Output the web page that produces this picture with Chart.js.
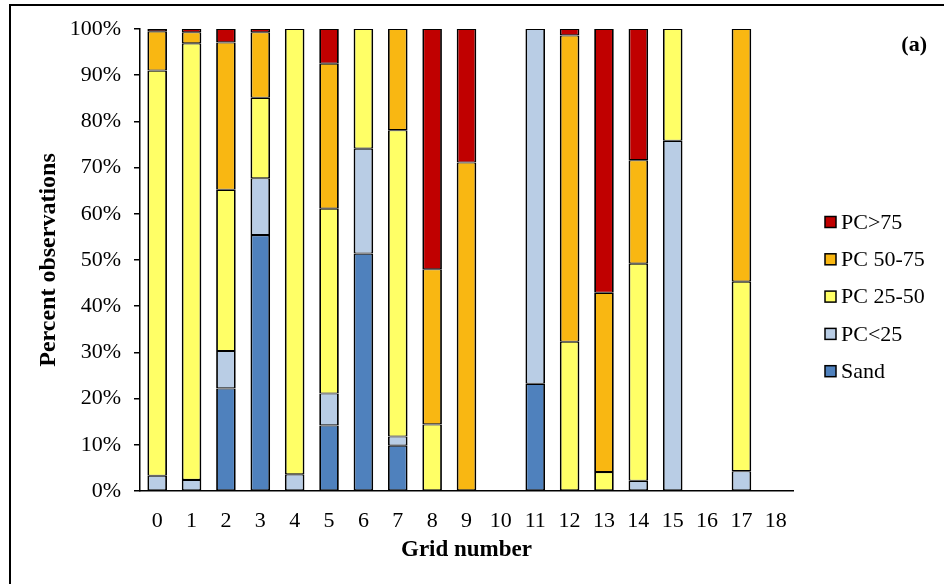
<!DOCTYPE html>
<html>
<head>
<meta charset="utf-8">
<script src="https://cdn.jsdelivr.net/npm/chart.js@4/dist/chart.umd.min.js"></script>
<style>
  html, body { margin: 0; padding: 0; background: #fff; }
  #wrap { width: 944px; height: 584px; position: relative; }
</style>
</head>
<body>
<div id="wrap"><canvas id="grafico" width="944" height="584"></canvas></div>
<script>
// Grid numbers on the x axis
const grids = ['0', '1', '2', '3', '4', '5', '6', '7', '8', '9', '10', '11', '12', '13', '14', '15', '16', '17', '18'];

// Percent of observations per class, one value per grid
const sand      = [0, 0, 22.2, 55.4, 0, 14.2, 51.4, 9.8, 0, 0, 0, 23.2, 0, 0, 0, 0, 0, 0, 0];
const pcUnder25 = [3.3, 2.4, 8.1, 12.3, 3.6, 6.9, 22.7, 2.0, 0, 0, 0, 76.8, 0, 0, 2.2, 75.8, 0, 4.3, 0];
const pc25to50  = [87.7, 94.5, 34.9, 17.4, 96.4, 40.0, 25.9, 66.3, 14.4, 0, 0, 0, 32.3, 4.1, 47.0, 24.2, 0, 41.0, 0];
const pc50to75  = [8.5, 2.4, 31.9, 14.2, 0, 31.4, 0, 21.9, 33.6, 71.1, 0, 0, 66.3, 38.8, 22.4, 0, 0, 54.7, 0];
const pcOver75  = [0.5, 0.7, 2.9, 0.7, 0, 7.5, 0, 0, 52.0, 28.9, 0, 0, 1.4, 57.1, 28.4, 0, 0, 0, 0];

const yTicks = [0, 10, 20, 30, 40, 50, 60, 70, 80, 90, 100];

const serif = "'Liberation Serif', 'Times New Roman', serif";

function serie(label, data, color) {
    return {
        label: label,
        data: data,
        backgroundColor: color,
        borderColor: '#000',
        // thinner top/bottom so two stacked segments share about one line
        borderWidth: { left: 1.8, right: 1.8, top: 1.1, bottom: 1.1 },
        borderSkipped: false,
        barPercentage: 0.57,
        categoryPercentage: 1
    };
}

// outer frame of the figure
const moldura = {
    id: 'moldura',
    beforeDraw(chart) {
        const ctx = chart.ctx;
        ctx.save();
        ctx.fillStyle = '#fff';
        ctx.fillRect(0, 0, chart.width, chart.height);
        ctx.strokeStyle = '#000';
        ctx.lineWidth = 2;
        ctx.strokeRect(10, 5, chart.width + 20, chart.height + 20);
        ctx.restore();
    }
};

// legend on the right, top class first, plus the panel tag
const legenda = {
    id: 'legenda',
    afterDraw(chart) {
        const ctx = chart.ctx;
        const sets = chart.data.datasets;
        ctx.save();
        ctx.font = '22px ' + serif;
        ctx.textBaseline = 'middle';
        ctx.textAlign = 'left';
        for (let i = sets.length - 1, k = 0; i >= 0; i--, k++) {
            const y = 222 + k * 37.3;
            ctx.fillStyle = sets[i].backgroundColor;
            ctx.fillRect(825, y - 5.5, 11, 11);
            ctx.strokeStyle = '#000';
            ctx.lineWidth = 1.5;
            ctx.strokeRect(825, y - 5.5, 11, 11);
            ctx.fillStyle = '#000';
            ctx.fillText(sets[i].label, 841, y + 1);
        }
        ctx.font = 'bold 22px ' + serif;
        ctx.textAlign = 'right';
        ctx.fillText('(a)', 927, 45);
        ctx.restore();
    }
};

new Chart(document.getElementById('grafico').getContext('2d'), {
    type: 'bar',
    data: {
        labels: grids,
        datasets: [
            serie('Sand', sand, '#4f81bd'),
            serie('PC<25', pcUnder25, '#b9cde5'),
            serie('PC 25-50', pc25to50, '#ffff66'),
            serie('PC 50-75', pc50to75, '#f9b712'),
            serie('PC>75', pcOver75, '#c00000')
        ]
    },
    options: {
        responsive: false,
        animation: false,
        layout: { padding: { top: 29, right: 151, left: 0, bottom: 0 } },
        plugins: {
            legend: { display: false },
            tooltip: { enabled: false }
        },
        scales: {
            x: {
                stacked: true,
                offset: true,
                grid: { display: false },
                border: { display: true, color: '#000', width: 1.5 },
                ticks: {
                    font: { family: serif, size: 22 },
                    color: '#000',
                    padding: 9,
                    maxRotation: 0,
                    autoSkip: false
                },
                title: {
                    display: true,
                    text: 'Grid number',
                    font: { family: serif, size: 23, weight: 'bold' },
                    color: '#000',
                    padding: { top: 0, bottom: 20 }
                },
                afterFit: s => { s.height = 93; }
            },
            y: {
                stacked: true,
                min: 0,
                max: 100,
                afterBuildTicks: s => { s.ticks = yTicks.map(v => ({ value: v })); },
                grid: { drawOnChartArea: false, drawTicks: true, tickLength: 6, color: '#000', lineWidth: 1.5 },
                border: { display: true, color: '#000', width: 1.5 },
                ticks: {
                    font: { family: serif, size: 22 },
                    color: '#000',
                    padding: 13,
                    callback: v => v + '%'
                },
                title: {
                    display: true,
                    text: 'Percent observations',
                    font: { family: serif, size: 24, weight: 'bold' },
                    color: '#000',
                    padding: { top: 34, bottom: 0 }
                },
                afterFit: s => { s.width = 140; }
            }
        }
    },
    plugins: [moldura, legenda]
});
</script>
</body>
</html>
